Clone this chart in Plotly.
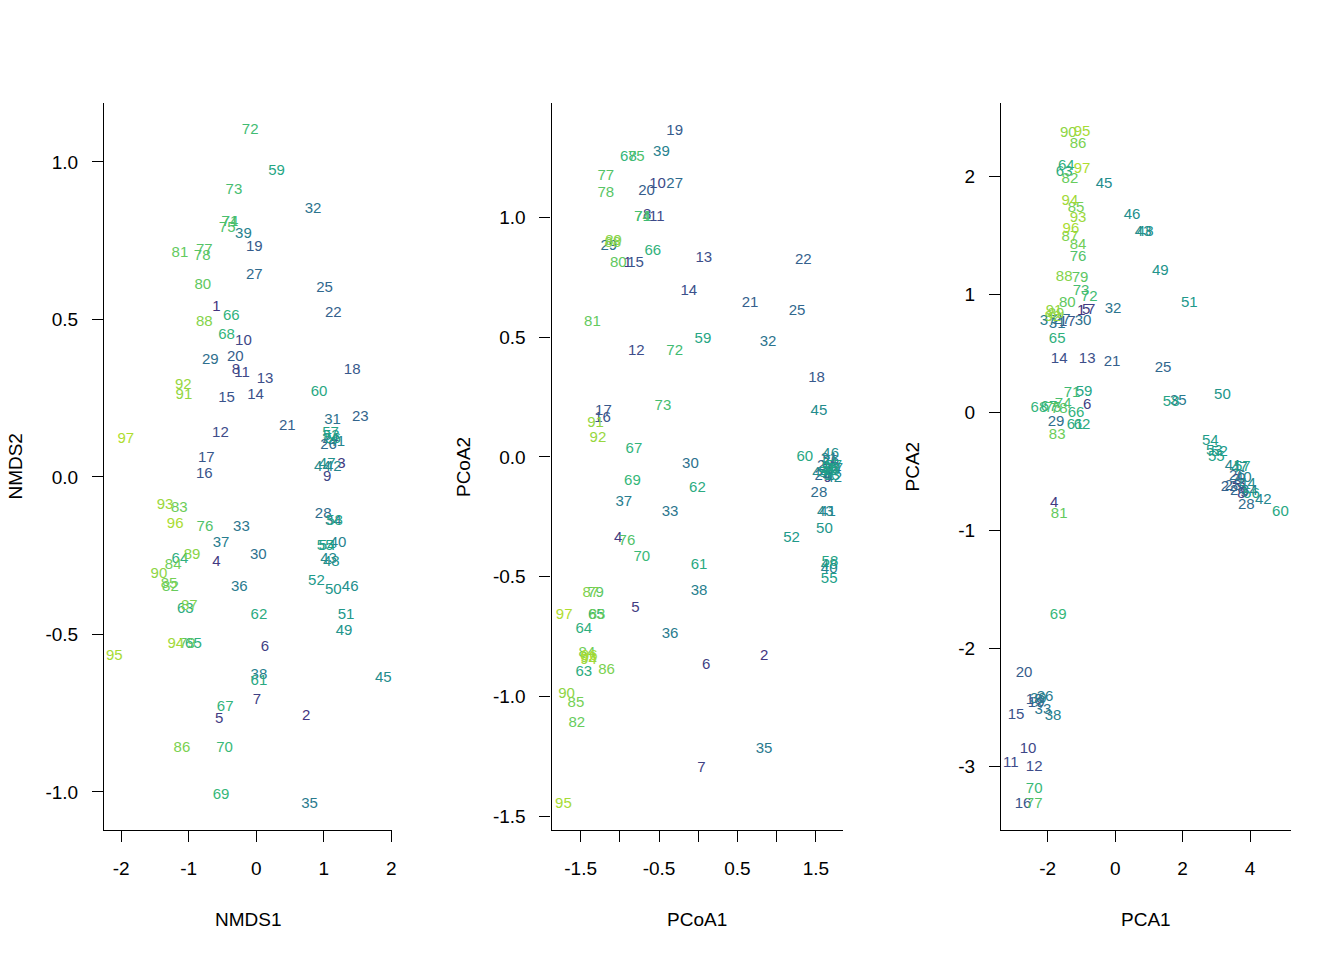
import plotly.graph_objects as go
from plotly.colors import sample_colorscale

# sample ids 1..97, coloured along viridis by id
ids = list(range(1, 98))

nmds1 = [
    -0.59, 0.74, 1.26, -0.59, -0.55, 0.13, 0.01, -0.30, 1.05, -0.19,
    -0.21, -0.53, 0.13, -0.01, -0.44, -0.77, -0.74, 1.42, -0.03, -0.31,
    0.46, 1.14, 1.54, 1.10, 1.01, 1.07, -0.03, 0.99, -0.68, 0.03,
    1.13, 0.84, -0.22, 1.14, 0.79, -0.25, -0.52, 0.04, -0.19, 1.21,
    1.19, 1.14, 1.07, 0.98, 1.88, 1.39, 1.05, 1.11, 1.30, 1.14,
    1.33, 0.89, 1.11, 1.05, 1.02, 1.13, 1.10, 1.16, 0.30, 0.93,
    0.04, 0.04, -1.05, -1.13, -0.93, -0.37, -0.46, -0.44, -0.52, -0.47,
    -0.39, -0.09, -0.33, -0.39, -0.43, -0.76, -0.77, -0.80, -1.02, -0.79,
    -1.13, -1.27, -1.14, -1.23, -1.29, -1.10, -0.99, -0.77, -0.95, -1.44,
    -1.07, -1.08, -1.35, -1.19, -2.10, -1.20, -1.93]
nmds2 = [
    0.54, -0.76, 0.04, -0.27, -0.77, -0.54, -0.71, 0.34, 0.00, 0.43,
    0.33, 0.14, 0.31, 0.26, 0.25, 0.01, 0.06, 0.34, 0.73, 0.38,
    0.16, 0.52, 0.19, 0.12, 0.60, 0.10, 0.64, -0.12, 0.37, -0.25,
    0.18, 0.85, -0.16, -0.14, -1.04, -0.35, -0.21, -0.63, 0.77, -0.21,
    0.11, 0.03, -0.26, 0.03, -0.64, -0.35, 0.04, -0.27, -0.49, -0.36,
    -0.44, -0.33, 0.13, -0.22, -0.22, 0.12, 0.14, -0.14, 0.97, 0.27,
    -0.65, -0.44, -0.42, -0.26, -0.53, 0.51, -0.73, 0.45, -1.01, -0.86,
    0.81, 1.10, 0.91, 0.81, 0.79, -0.16, 0.72, 0.70, -0.53, 0.61,
    0.71, -0.35, -0.10, -0.28, -0.34, -0.86, -0.41, 0.49, -0.25, -0.31,
    0.26, 0.29, -0.09, -0.53, -0.57, -0.15, 0.12]

pcoa1 = [
    -0.90, 0.84, 1.64, -1.02, -0.80, 0.10, 0.04, -0.65, 1.65, -0.52,
    -0.53, -0.79, 0.07, -0.12, -0.80, -1.22, -1.21, 1.51, -0.30, -0.66,
    0.66, 1.34, 1.62, 1.59, 1.26, 1.69, -0.30, 1.54, -1.14, -0.10,
    1.67, 0.89, -0.36, 1.72, 0.84, -0.36, -0.95, 0.01, -0.47, 1.67,
    1.65, 1.73, 1.62, 1.56, 1.54, 1.69, 1.74, 1.67, 1.67, 1.61,
    1.69, 1.19, 1.70, 1.64, 1.67, 1.68, 1.73, 1.68, 0.06, 1.36,
    0.01, -0.01, -1.46, -1.46, -1.30, -0.58, -0.82, -0.89, -0.84, -0.72,
    -0.71, -0.30, -0.45, -0.71, -0.79, -0.91, -1.18, -1.18, -1.31, -1.02,
    -1.35, -1.55, -1.29, -1.42, -1.56, -1.17, -1.37, -1.09, -1.08, -1.68,
    -1.31, -1.28, -1.40, -1.40, -1.72, -1.39, -1.71]
pcoa2 = [
    0.81, -0.83, -0.05, -0.34, -0.63, -0.87, -1.30, 1.01, -0.09, 1.14,
    1.00, 0.44, 0.83, 0.69, 0.81, 0.16, 0.19, 0.33, 1.36, 1.11,
    0.64, 0.82, -0.04, -0.08, 0.61, -0.02, 1.14, -0.15, 0.88, -0.03,
    -0.01, 0.48, -0.23, -0.05, -1.22, -0.74, -0.19, -0.56, 1.27, -0.47,
    -0.23, -0.09, -0.23, -0.07, 0.19, 0.01, -0.05, -0.45, -0.06, -0.30,
    -0.03, -0.34, -0.08, -0.07, -0.51, -0.05, -0.04, -0.44, 0.49, 0.00,
    -0.45, -0.13, -0.90, -0.72, -0.66, 0.86, 0.03, 1.25, -0.10, -0.42,
    1.00, 0.44, 0.21, 1.00, 1.25, -0.35, 1.17, 1.10, -0.57, 0.81,
    0.56, -1.11, -0.66, -0.82, -1.03, -0.89, -0.57, 0.89, 0.90, -0.99,
    0.14, 0.08, -0.84, -0.85, -1.45, -0.83, -0.66]

pca1 = [
    -1.01, 3.59, 3.74, -1.81, -0.86, -0.83, -0.71, 3.74, 3.83, -2.58,
    -3.09, -2.40, -0.83, -1.66, -2.94, -2.73, -1.42, -2.40, -2.34, -2.70,
    -0.09, 3.38, 3.50, 3.65, 1.42, 3.62, -1.57, 3.89, -1.75, -0.95,
    -1.72, -0.06, -2.14, 3.98, 1.87, -2.08, -1.99, -1.84, -2.28, 3.80,
    3.50, 4.39, 0.83, 3.92, -0.33, 0.50, 3.68, 0.89, 1.34, 3.18,
    2.20, 3.09, 2.94, 2.82, 3.00, 4.04, 3.77, 1.66, -0.92, 4.90,
    -1.19, -0.98, -1.51, -1.45, -1.72, -1.16, -1.96, -2.26, -1.69, -2.40,
    -1.28, -0.77, -1.01, -1.54, -1.84, -1.10, -2.40, -1.66, -1.04, -1.42,
    -1.66, -1.34, -1.72, -1.10, -1.16, -1.10, -1.34, -1.51, -1.75, -1.39,
    -1.81, -1.84, -1.10, -1.34, -0.98, -1.31, -0.98]
pca2 = [
    0.85, -0.58, -0.61, -0.77, 0.86, 0.06, 0.86, -0.70, -0.69, -2.86,
    -2.98, -3.01, 0.45, 0.45, -2.57, -3.32, 0.76, -2.44, -2.47, -2.21,
    0.42, -0.64, -0.63, -0.67, 0.37, -0.54, 0.78, -0.79, -0.09, 0.77,
    0.74, 0.87, -2.53, -0.67, 0.09, -2.42, 0.77, -2.58, -2.43, -0.56,
    -0.46, -0.75, 1.52, -0.61, 1.93, 1.67, -0.48, 1.52, 1.19, 0.14,
    0.92, -0.34, -0.33, -0.25, -0.38, -0.70, -0.47, 0.08, 0.17, -0.85,
    -0.11, -0.11, 2.03, 2.08, 0.62, -0.01, 0.04, 0.03, -1.72, -3.20,
    0.16, 0.97, 1.02, 0.07, 0.03, 1.31, -3.32, 0.02, 1.13, 0.92,
    -0.87, 1.97, -0.20, 1.41, 1.73, 2.27, 1.48, 1.14, 0.83, 2.36,
    0.85, 0.80, 1.64, 1.79, 2.37, 1.55, 2.06]

# tick positions / labels per panel (R style, hyphen minus, some labels dropped)
nmds_xticks = [-2, -1, 0, 1, 2]
nmds_xlabels = ["-2", "-1", "0", "1", "2"]
nmds_yticks = [-1.0, -0.5, 0.0, 0.5, 1.0]
nmds_ylabels = ["-1.0", "-0.5", "0.0", "0.5", "1.0"]
pcoa_xticks = [-1.5, -1.0, -0.5, 0.0, 0.5, 1.0, 1.5]
pcoa_xlabels = ["-1.5", "", "-0.5", "", "0.5", "", "1.5"]
pcoa_yticks = [-1.5, -1.0, -0.5, 0.0, 0.5, 1.0]
pcoa_ylabels = ["-1.5", "-1.0", "-0.5", "0.0", "0.5", "1.0"]
pca_xticks = [-2, 0, 2, 4]
pca_xlabels = ["-2", "0", "2", "4"]
pca_yticks = [-3, -2, -1, 0, 1, 2]
pca_ylabels = ["-3", "-2", "-1", "0", "1", "2"]

FONT = "Liberation Sans, Arial, sans-serif"
W = 1338.6  # effective page width the screenshot maps onto


def build_figure():
    n = len(ids)
    colors = sample_colorscale("Viridis", [0.15 + 0.73 * i / (n - 1) for i in range(n)])
    labels = [str(i) for i in ids]

    panels = [
        (nmds1, nmds2, "NMDS1", "NMDS2", [104 / W, 392 / W], [-2.252, 2.015], [-1.121, 1.187],
         nmds_xticks, nmds_xlabels, nmds_yticks, nmds_ylabels),
        (pcoa1, pcoa2, "PCoA1", "PCoA2", [551 / W, 842 / W], [-1.871, 1.845], [-1.557, 1.477],
         pcoa_xticks, pcoa_xlabels, pcoa_yticks, pcoa_ylabels),
        (pca1, pca2, "PCA1", "PCA2", [1000 / W, 1290 / W], [-3.383, 5.223], [-3.542, 2.619],
         pca_xticks, pca_xlabels, pca_yticks, pca_ylabels),
    ]

    fig = go.Figure()
    ydom = [0.1354, 0.8927]
    annotations = []
    for k, (xs, ys, xt, yt, xdom, xr, yr, xtv, xtt, ytv, ytt) in enumerate(panels, start=1):
        sfx = "" if k == 1 else str(k)
        fig.add_trace(go.Scatter(
            x=xs, y=ys, text=labels, mode="text",
            textposition="middle center",
            textfont=dict(family=FONT, size=15, color=colors),
            xaxis="x" + sfx, yaxis="y" + sfx,
            hoverinfo="skip", showlegend=False, cliponaxis=False,
        ))
        axis_common = dict(
            showline=True, linecolor="black", linewidth=1.3, mirror=False,
            showgrid=False, zeroline=False, ticks="outside", ticklen=11,
            tickwidth=1.3, tickcolor="black", ticklabelstandoff=10,
            tickfont=dict(family=FONT, size=19, color="black"),
        )
        fig.update_layout(**{
            "xaxis" + sfx: dict(axis_common, domain=xdom, range=xr, anchor="y" + sfx,
                                tickmode="array", tickvals=xtv, ticktext=xtt),
            "yaxis" + sfx: dict(axis_common, domain=ydom, range=yr, anchor="x" + sfx,
                                tickmode="array", tickvals=ytv, ticktext=ytt),
        })
        xmid = (xdom[0] + xdom[1]) / 2
        annotations.append(dict(text=xt, x=xmid, y=0.0417, xref="paper", yref="paper",
                                showarrow=False, xanchor="center", yanchor="middle",
                                font=dict(family=FONT, size=19, color="black")))
        annotations.append(dict(text=yt, x=xdom[0] - 88 / W, y=0.514, xref="paper", yref="paper",
                                showarrow=False, xanchor="center", yanchor="middle", textangle=-90,
                                font=dict(family=FONT, size=19, color="black")))

    fig.update_layout(
        width=1344, height=960,
        margin=dict(l=0, r=0, t=0, b=0),
        paper_bgcolor="white", plot_bgcolor="white",
        annotations=annotations,
    )
    return fig


if __name__ == "__main__":
    fig = build_figure()
    # drop the default page margin so the figure sits at the window origin
    fig.write_html("out.html", config={"displayModeBar": False},
                   post_script="document.body.style.margin='0';document.body.style.overflow='hidden';")
